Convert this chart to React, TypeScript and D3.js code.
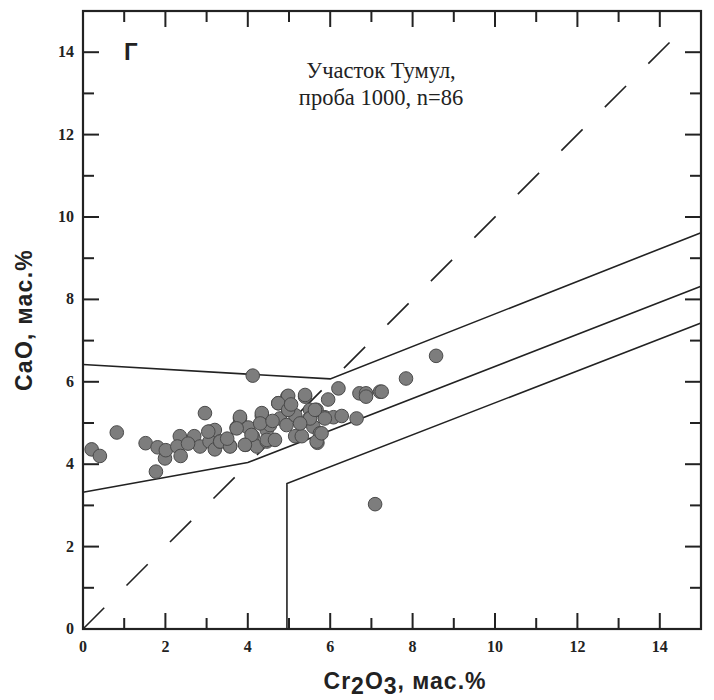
import React, { useEffect, useRef } from "react";
import * as d3 from "d3";

// measured points (Cr2O3, CaO), мас.%
const crValues = [
  4.12, 6.2, 6.71, 6.87, 6.87, 7.21, 6.64, 0.82, 0.21, 0.41,
  1.77, 1.52, 1.81, 1.99, 2.01, 2.35, 2.29, 2.37, 2.96, 2.7,
  2.84, 3.07, 3.2, 3.07, 3.2, 3.33, 3.57, 3.81, 3.73, 3.95,
  4.01, 4.12, 4.22, 4.34, 4.42, 4.46, 4.46, 4.74, 4.96, 4.78,
  4.98, 4.94, 5.15, 5.15, 5.31, 5.39, 5.51, 5.49, 5.59, 5.67,
  5.75, 5.69, 5.95, 5.87, 6.08, 6.28, 7.09, 8.57, 7.84, 7.25,
  5.39, 4.98, 4.74, 4.34, 3.81, 4.09, 4.46, 5.67, 5.79, 5.87,
  5.51, 5.63, 3.33, 3.57, 3.93, 3.73, 3.04, 4.54, 4.98, 5.27,
  4.3, 4.66, 4.6, 5.05, 3.5, 2.55,
];
const caoValues = [
  6.15, 5.84, 5.72, 5.72, 5.64, 5.76, 5.11, 4.77, 4.36, 4.2,
  3.82, 4.51, 4.41, 4.14, 4.34, 4.68, 4.43, 4.2, 5.24, 4.68,
  4.43, 4.79, 4.83, 4.55, 4.36, 4.55, 4.44, 5.11, 4.89, 4.47,
  4.89, 4.68, 4.43, 5.17, 5.03, 4.83, 4.55, 5.48, 5.64, 5.11,
  5.32, 4.95, 5.19, 4.68, 4.68, 5.64, 5.32, 5.11, 4.91, 5.32,
  4.75, 4.52, 5.57, 5.14, 5.14, 5.17, 3.03, 6.63, 6.08, 5.76,
  5.68, 5.66, 5.48, 5.24, 5.15, 4.71, 4.59, 4.55, 4.75, 5.11,
  5.11, 5.32, 4.55, 4.43, 4.47, 4.87, 4.79, 4.95, 5.32, 4.99,
  4.99, 4.59, 5.05, 5.45, 4.62, 4.5,
];

// field boundaries
const upperLine: [number, number][] = [[0, 6.42], [6, 6.07], [15, 9.62]];
const middleLine: [number, number][] = [[0, 3.32], [4, 4.04], [15, 8.32]];
const lowerLine: [number, number][] = [[4.95, 0], [4.95, 3.53], [15, 7.43]];
const diagonal: [number, number][] = [[0, 0], [14.4, 14.4]];

const xMajor = [0, 2, 4, 6, 8, 10, 12, 14];
const yMajor = [0, 2, 4, 6, 8, 10, 12, 14];
const minorTicks = d3.range(1, 15, 2);

const App = () => {
  const svgRef = useRef<SVGSVGElement>(null);

  useEffect(() => {
    const W = 714;
    const H = 700;
    const left = 83, right = 701, top = 11, bottom = 629;
    const svg = d3.select(svgRef.current).attr("width", W).attr("height", H);
    svg.selectAll("*").remove();

    const x = d3.scaleLinear().domain([0, 15]).range([left, right]);
    const y = d3.scaleLinear().domain([0, 15]).range([bottom, top]);

    const ink = "#222";
    const line = d3.line<[number, number]>().x(d => x(d[0])).y(d => y(d[1]));

    // frame
    svg.append("rect")
      .attr("x", left).attr("y", top)
      .attr("width", right - left).attr("height", bottom - top)
      .attr("fill", "none").attr("stroke", ink).attr("stroke-width", 2.2);

    // ticks, all inward
    const ticks = svg.append("g").attr("stroke", ink).attr("stroke-width", 2);
    const drawTicks = (vals: number[], len: number) => {
      vals.forEach(v => {
        if (v <= 0 || v >= 15) return;
        ticks.append("line").attr("x1", x(v)).attr("x2", x(v)).attr("y1", bottom).attr("y2", bottom - len);
        ticks.append("line").attr("x1", x(v)).attr("x2", x(v)).attr("y1", top).attr("y2", top + len);
        ticks.append("line").attr("y1", y(v)).attr("y2", y(v)).attr("x1", left).attr("x2", left + len);
        ticks.append("line").attr("y1", y(v)).attr("y2", y(v)).attr("x1", right).attr("x2", right - len);
      });
    };
    drawTicks(xMajor, 16);
    drawTicks(minorTicks, 11);

    // tick labels
    svg.append("g").selectAll("text").data(xMajor).join("text")
      .attr("x", d => x(d)).attr("y", bottom + 23)
      .attr("text-anchor", "middle")
      .style("font", "bold 16px 'Liberation Serif', serif").attr("fill", ink)
      .text(d => d);
    svg.append("g").selectAll("text").data(yMajor).join("text")
      .attr("x", left - 9).attr("y", d => y(d) + 5)
      .attr("text-anchor", "end")
      .style("font", "bold 16px 'Liberation Serif', serif").attr("fill", ink)
      .text(d => d);

    // boundaries
    [upperLine, middleLine, lowerLine].forEach(l => {
      svg.append("path").attr("d", line(l)!).attr("fill", "none")
        .attr("stroke", ink).attr("stroke-width", 1.6);
    });
    svg.append("path").attr("d", line(diagonal)!).attr("fill", "none")
      .attr("stroke", ink).attr("stroke-width", 1.6)
      .attr("stroke-dasharray", "30 31.5");

    // points
    const pts = crValues.map((v, i) => [v, caoValues[i]] as [number, number]);
    svg.append("g").selectAll("circle").data(pts).join("circle")
      .attr("cx", d => x(d[0])).attr("cy", d => y(d[1])).attr("r", 6.8)
      .attr("fill", "#7d7d7d").attr("stroke", "#4a4a4a").attr("stroke-width", 1);

    // annotations
    svg.append("text").attr("x", 124).attr("y", 60)
      .style("font", "bold 24px 'Liberation Sans', Arial, sans-serif").attr("fill", ink)
      .text("Г");
    const info = svg.append("text").attr("text-anchor", "middle")
      .style("font", "22.5px 'Liberation Serif', serif").attr("fill", ink);
    info.append("tspan").attr("x", 381).attr("y", 78).text("Участок Тумул,");
    info.append("tspan").attr("x", 381).attr("y", 105).text("проба 1000, n=86");

    // axis titles
    svg.append("text")
      .attr("transform", `translate(32, ${(top + bottom) / 2}) rotate(-90)`)
      .attr("text-anchor", "middle")
      .style("font", "bold 23px 'Liberation Sans', Arial, sans-serif")
      .style("letter-spacing", "1.3px").attr("fill", ink)
      .text("CaO, мас.%");
    const xt = svg.append("text").attr("x", (left + right) / 2 + 13).attr("y", 689)
      .attr("text-anchor", "middle")
      .style("font", "bold 23px 'Liberation Sans', Arial, sans-serif")
      .style("letter-spacing", "1px").attr("fill", ink);
    xt.append("tspan").text("Cr");
    xt.append("tspan").attr("dy", 5).text("2");
    xt.append("tspan").attr("dy", -5).text("O");
    xt.append("tspan").attr("dy", 5).text("3");
    xt.append("tspan").attr("dy", -5).text(", мас.%");
  }, []);

  return (
    <div style={{ position: "absolute", left: 0, top: 0 }}>
      <svg ref={svgRef}></svg>
    </div>
  );
};

export default App;
